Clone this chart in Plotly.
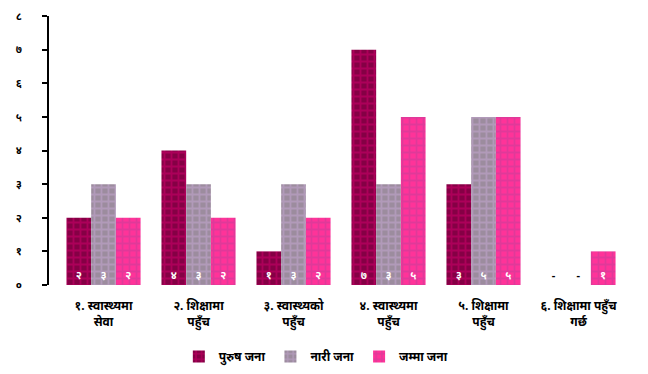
import plotly.graph_objects as go

categories = ["१. स्वास्थ्यमा<br>सेवा", "२. शिक्षामा<br>पहुँच", "३. स्वास्थ्यको<br>पहुँच",
              "४. स्वास्थ्यमा<br>पहुँच", "५. शिक्षामा<br>पहुँच", "६. शिक्षामा पहुँच<br>गर्छ"]
series_names = ["पुरुष जना", "नारी जना", "जम्मा जना"]
male = [2, 4, 1, 7, 3, 0]
female = [3, 3, 3, 3, 5, 0]
total = [2, 2, 2, 5, 5, 1]
y_ticks = [0, 1, 2, 3, 4, 5, 6, 7, 8]

DEV = "०१२३४५६७८९"
def dev(n):
    return "".join(DEV[int(c)] for c in str(n))

styles = [
    ("#850045", "#D4006E"),
    ("#9C8C9E", "#C6A8D4"),
    ("#FF3399", "#C2409A"),
]

FONT = "Noto Sans, DejaVu Sans, sans-serif"
fig = go.Figure()
for name, vals, (bg, fg) in zip(series_names, [male, female, total], styles):
    fig.add_trace(go.Bar(
        x=categories, y=vals, name=name,
        marker=dict(color=bg, line=dict(width=0),
                    pattern=dict(shape="+", fgcolor=fg, size=7, solidity=0.45)),
        text=["-" if v == 0 else dev(v) for v in vals],
        textposition=["outside" if v == 0 else "inside" for v in vals],
        insidetextanchor="start",
        textangle=0,
        cliponaxis=False,
        textfont=dict(color=["black" if v == 0 else "white" for v in vals], size=11,
                      family=FONT, weight="bold"),
    ))

fig.update_layout(
    width=640, height=366,
    barmode="group", bargap=0.22, bargroupgap=0,
    plot_bgcolor="white", paper_bgcolor="white",
    margin=dict(l=41, r=22, t=8, b=89, autoexpand=False),
    font=dict(family=FONT, size=11, color="black", weight="bold"),
    uniformtext=dict(minsize=8, mode="show"),
    legend=dict(orientation="h", x=0.225, xanchor="left", y=-0.212, yanchor="top",
                font=dict(size=12, weight="bold"), itemwidth=30, traceorder="normal",
                tracegroupgap=0),
    xaxis=dict(range=[-0.574, 5.5], showline=False, ticks="", tickangle=0,
               automargin=False, ticklabelstandoff=12,
               tickfont=dict(size=12, weight="bold")),
    yaxis=dict(range=[0, 8], tickvals=y_ticks, ticktext=[dev(v) for v in y_ticks],
               automargin=False, ticklabeloverflow="allow",
               showgrid=False, zeroline=False, showline=True, linecolor="black", linewidth=2,
               ticks="outside", ticklen=5, tickcolor="black", tickwidth=2,
               ticklabelstandoff=18,
               tickfont=dict(size=11, weight="bold")),
)

fig.write_html("out.html")
